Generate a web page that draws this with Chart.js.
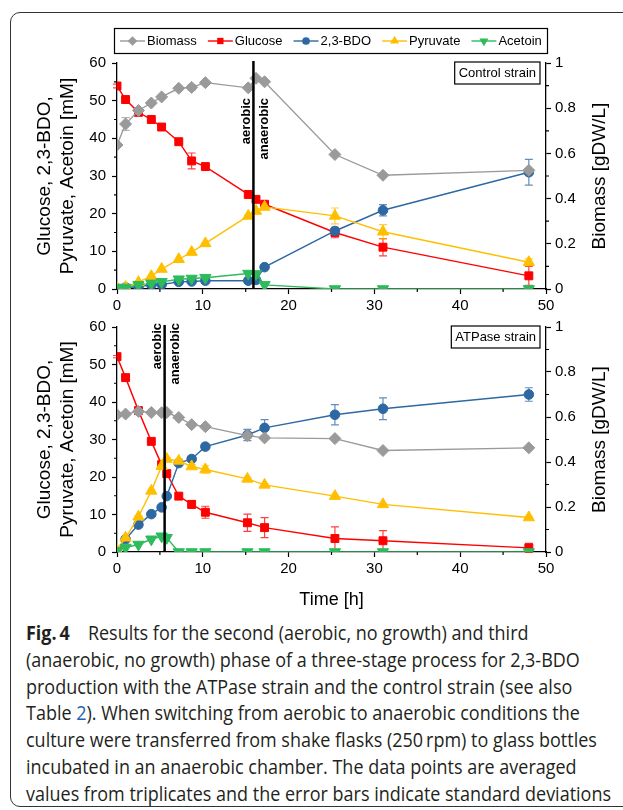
<!DOCTYPE html>
<html><head><meta charset="utf-8">
<script src="https://cdn.jsdelivr.net/npm/chart.js@4.4.1/dist/chart.umd.min.js"></script>
<style>
html,body{margin:0;padding:0;background:#fff;}
body{width:623px;height:810px;position:relative;overflow:hidden;font-family:"Liberation Sans",Arial,sans-serif;}
#frame{position:absolute;left:10px;top:12px;width:700px;height:795px;border:1px solid #333;border-radius:10px;box-sizing:border-box;}
#w1{position:absolute;left:0;top:0;width:623px;height:312px;}
#w2{position:absolute;left:0;top:312px;width:623px;height:298px;}
#caption{position:absolute;left:26px;top:620px;font-family:"Open Sans",sans-serif;font-size:20px;line-height:26.8px;color:#231f20;white-space:nowrap;}
#caption .ln{display:block;transform-origin:0 50%;width:max-content;}
#caption b{font-weight:700;}
#caption .lk{color:#1f63b0;}
</style></head><body>
<div id="frame"></div>
<div id="w1"><canvas id="c1" width="623" height="312"></canvas></div>
<div id="w2"><canvas id="c2" width="623" height="298"></canvas></div>
<div id="caption">
<span class="ln"><b>Fig.&#8201;4</b>&emsp;Results for the second (aerobic, no growth) and third</span>
<span class="ln">(anaerobic, no growth) phase of a three-stage process for 2,3-BDO</span>
<span class="ln">production with the ATPase strain and the control strain (see also</span>
<span class="ln">Table <span class="lk">2</span>). When switching from aerobic to anaerobic conditions the</span>
<span class="ln">culture were transferred from shake flasks (250&#8201;rpm) to glass bottles</span>
<span class="ln">incubated in an anaerobic chamber. The data points are averaged</span>
<span class="ln">values from triplicates and the error bars indicate standard deviations</span>
</div>
<script>
// ---------- DATA ----------
const seriesNames = ["Biomass", "Glucose", "2,3-BDO", "Pyruvate", "Acetoin"];
const xTicks = [0, 10, 20, 30, 40, 50];
const leftTicks = [0, 10, 20, 30, 40, 50, 60];
const rightTicks = [0, 0.2, 0.4, 0.6, 0.8, 1];

// Control strain (top)
const timeC     = [0, 1, 2.5, 4, 5.2, 7.2, 8.7, 10.3, 15.3, 16.2, 17.2, 25.4, 31, 48];
const biomassC  = [0.637, 0.73, 0.79, 0.823, 0.85, 0.888, 0.892, 0.913, 0.89, 0.932, 0.917, 0.595, 0.503, 0.525];
const glucoseC  = [53.9, 50.3, 46.9, 45.0, 43.0, 39.1, 34.0, 32.5, 25.1, 23.8, 22.5, 15.0, 11.1, 3.5];
const bdoC      = [0.2, 0.4, 0.6, 1.1, 1.2, 1.9, 2.0, 2.2, 2.2, 2.4, 5.8, 15.4, 20.9, 31.0];
const pyruvateC = [0.2, 0.5, 1.8, 3.4, 5.3, 7.9, 9.8, 12.1, 19.4, 20.7, 21.8, 19.4, 15.2, 7.1];
const acetoinC  = [0.3, 0.4, 1.1, 1.5, 1.9, 2.6, 2.8, 3.0, 4.1, 4.0, 1.1, 0, 0, 0];
const biomassErrC  = [0, 0.028, 0.01, 0, 0, 0.008, 0.012, 0.006, 0, 0, 0.006, 0.006, 0.005, 0.005];
const glucoseErrC  = [0.5, 0.3, 0.3, 0.3, 0.3, 0.5, 2.1, 0.4, 0.5, 0.4, 0.8, 1.4, 2.3, 2.5];
const bdoErrC      = [0, 0, 0, 0, 0, 0, 0, 0, 0.2, 0.2, 0.3, 0.8, 1.5, 3.4];
const pyruvateErrC = [0, 0, 0, 0, 0, 0, 0, 0, 0.3, 0.3, 0.8, 2.1, 1.9, 0.9];
const acetoinErrC  = [0, 0, 0, 0, 0, 0, 0, 0, 0, 0, 0, 0, 0, 0];
const switchC = 15.9;

// ATPase strain (bottom)
const timeA     = [0, 1, 2.5, 4, 5.2, 5.8, 7.2, 8.7, 10.3, 15.2, 17.2, 25.4, 31, 48];
const biomassA  = [0.61, 0.613, 0.625, 0.62, 0.619, 0.62, 0.598, 0.566, 0.557, 0.517, 0.507, 0.504, 0.451, 0.463];
const glucoseA  = [52.1, 46.5, 37.7, 29.5, 23.3, 20.9, 14.9, 12.7, 10.6, 7.8, 6.5, 3.6, 3.0, 1.1];
const bdoA      = [0.3, 3.4, 7.3, 10.1, 11.9, 14.9, 23.7, 24.8, 28.1, 31.2, 33.1, 36.6, 38.2, 42.0];
const pyruvateA = [0.5, 3.8, 9.4, 16.3, 22.9, 24.8, 24.3, 22.8, 22.0, 19.5, 17.9, 14.9, 12.7, 9.2];
const acetoinA  = [0.3, 1.2, 2.0, 3.4, 4.2, 3.8, 0, 0, 0, 0, 0, 0, 0, 0];
const biomassErrA  = [0, 0, 0, 0, 0, 0, 0, 0, 0, 0.012, 0, 0, 0, 0];
const glucoseErrA  = [0.3, 0.3, 0.3, 0.3, 0.6, 0.3, 0.5, 1.0, 1.6, 2.3, 2.65, 3.1, 2.7, 1.2];
const bdoErrA      = [0, 0, 0, 0.2, 0.3, 0.4, 0.3, 0.5, 0.6, 1.5, 2.2, 2.7, 2.9, 1.8];
const pyruvateErrA = [0, 0.2, 0.3, 0.3, 0.8, 0.3, 0.5, 0.5, 1.0, 0.4, 0.3, 0.3, 0.3, 0.3];
const acetoinErrA  = [0, 0, 0, 0, 0, 0, 0, 0, 0, 0, 0, 0, 0, 0];
const switchA = 5.55;

// ---------- STYLE ----------
const FONT = '"Liberation Sans", Arial, sans-serif';
const styles = [
  {color:'#9a9a9a', point:'rectRot', r:6, rot:0, axis:'y1', order:0},
  {color:'#ff0000', point:'rect', r:5.6, rot:0, axis:'y', order:4},
  {color:'#2e68a3', point:'circle', r:4.8, rot:0, axis:'y', order:3},
  {color:'#ffbf00', point:'triangle', r:6.5, rot:0, axis:'y', order:2},
  {color:'#2dbb5b', point:'triangle', r:6.5, rot:180, axis:'y', order:1}
];

function pts(t, v){ return t.map((x,i)=>({x:x, y:v[i]})); }

function buildDatasets(t, vals, errs){
  return vals.map((v,i)=>{
    const s = styles[i];
    return {
      label: seriesNames[i], data: pts(t, v), yAxisID: s.axis, order: s.order,
      borderColor: s.color, backgroundColor: s.color, borderWidth: 1.4,
      pointStyle: s.point, pointRadius: s.r, pointRotation: s.rot,
      pointBackgroundColor: s.color, pointBorderColor: s.color, pointBorderWidth: 1,
      tension: 0, errors: errs[i]
    };
  });
}

function drawMarker(ctx, style, x, y){
  ctx.save();
  ctx.fillStyle = style.color;
  ctx.beginPath();
  const r = style.r;
  if (style.point === 'rectRot'){ ctx.moveTo(x, y-r); ctx.lineTo(x+r, y); ctx.lineTo(x, y+r); ctx.lineTo(x-r, y); }
  else if (style.point === 'rect'){ const h = r*Math.SQRT1_2; ctx.rect(x-h, y-h, 2*h, 2*h); }
  else if (style.point === 'circle'){ ctx.arc(x, y, r, 0, Math.PI*2); }
  else { const d = style.rot ? -1 : 1; const h = r*Math.sqrt(3)/2;
    ctx.moveTo(x, y - d*r); ctx.lineTo(x + h, y + d*r/2); ctx.lineTo(x - h, y + d*r/2); }
  ctx.closePath(); ctx.fill(); ctx.restore();
}

function makePlugin(cfg){
  return {
    id: 'custom' + cfg.id,
    beforeDatasetsDraw(chart){
      const ctx = chart.ctx;
      chart.data.datasets.forEach((ds, i)=>{
        const meta = chart.getDatasetMeta(i);
        const sc = chart.scales[ds.yAxisID];
        ctx.save();
        ctx.strokeStyle = ds.borderColor; ctx.globalAlpha = 0.75; ctx.lineWidth = 1.2;
        ds.data.forEach((p, j)=>{
          const e = ds.errors[j]; if (!e) return;
          const x = meta.data[j].x;
          const y1 = sc.getPixelForValue(p.y + e), y2 = sc.getPixelForValue(p.y - e);
          ctx.beginPath();
          ctx.moveTo(x, y1); ctx.lineTo(x, y2);
          ctx.moveTo(x-4, y1); ctx.lineTo(x+4, y1);
          ctx.moveTo(x-4, y2); ctx.lineTo(x+4, y2);
          ctx.stroke();
        });
        ctx.restore();
      });
    },
    afterDraw(chart){
      const ctx = chart.ctx, a = chart.chartArea;
      const xs = chart.scales.x, ys = chart.scales.y, y1s = chart.scales.y1;
      ctx.save();
      ctx.strokeStyle = '#000'; ctx.lineWidth = 1.2;
      ctx.beginPath();
      for (let v = 5; v < 50; v += 10){ const px = xs.getPixelForValue(v); ctx.moveTo(px, a.bottom); ctx.lineTo(px, a.bottom + 3); }
      for (let v = 5; v < 60; v += 10){ const py = ys.getPixelForValue(v); ctx.moveTo(a.left - 3, py); ctx.lineTo(a.left, py); }
      for (let v = 0.1; v < 1; v += 0.2){ const py = y1s.getPixelForValue(v); ctx.moveTo(a.right, py); ctx.lineTo(a.right + 3, py); }
      ctx.stroke();
      // switch line
      const sx = xs.getPixelForValue(cfg.sw);
      ctx.lineWidth = 2.5;
      ctx.beginPath(); ctx.moveTo(sx, a.top - 2); ctx.lineTo(sx, a.bottom); ctx.stroke();
      ctx.fillStyle = '#000';
      ctx.font = 'bold 13px ' + FONT;
      ctx.textAlign = 'right'; ctx.textBaseline = 'middle';
      [['aerobic', -7], ['anaerobic', 11]].forEach(([t, dx])=>{
        ctx.save(); ctx.translate(sx + dx, cfg.labelTop); ctx.rotate(-Math.PI/2); ctx.fillText(t, 0, 0); ctx.restore();
      });
      // strain box
      ctx.font = '13px ' + FONT;
      const tw = ctx.measureText(cfg.strain).width;
      const bw = tw + 8, bh = 22, bx = a.right - 6 - bw, by = a.top - 1;
      ctx.fillStyle = '#fff'; ctx.fillRect(bx, by, bw, bh);
      ctx.lineWidth = 1.2; ctx.strokeRect(bx, by, bw, bh);
      ctx.fillStyle = '#000'; ctx.textAlign = 'center'; ctx.textBaseline = 'middle';
      ctx.fillText(cfg.strain, bx + bw/2, by + bh/2 + 0.5);
      // axis titles
      const cy = (a.top + a.bottom)/2;
      ctx.font = '19px ' + FONT;
      [['Glucose, 2,3-BDO,', 45], ['Pyruvate, Acetoin [mM]', 68], ['Biomass [gDW/L]', 600]].forEach(([t, x])=>{
        ctx.save(); ctx.translate(x, cy); ctx.rotate(-Math.PI/2); ctx.fillText(t, 0, 0); ctx.restore();
      });
      if (cfg.timeTitle){
        ctx.font = '18px ' + FONT;
        ctx.fillText('Time [h]', (a.left + a.right)/2, cfg.timeTitle);
      }
      if (cfg.legend){
        ctx.lineWidth = 1.2; ctx.strokeStyle = '#000';
        ctx.strokeRect(114.5, 28.5, 433, 25);
        ctx.font = '13px ' + FONT; ctx.textAlign = 'left'; ctx.textBaseline = 'middle';
        let x = 120; const ly = 41;
        seriesNames.forEach((n, i)=>{
          const s = styles[i];
          ctx.strokeStyle = s.color; ctx.lineWidth = 1.4;
          ctx.beginPath(); ctx.moveTo(x, ly); ctx.lineTo(x + 25, ly); ctx.stroke();
          drawMarker(ctx, {color:s.color, point:s.point, r:s.r*0.8, rot:s.rot}, x + 12.5, ly);
          ctx.fillStyle = '#000';
          ctx.fillText(n, x + 27, ly + 0.5);
          x = x + 27 + ctx.measureText(n).width + 11;
        });
      }
      ctx.restore();
    }
  };
}

function tickFont(){ return {family: FONT, size: 15}; }
function baseScales(xH){
  const grid = {display:true, drawOnChartArea:false, drawTicks:true, tickLength:5, tickColor:'#000', tickWidth:1.2};
  const border = {display:true, color:'#000', width:1.3};
  return {
    x: {type:'linear', position:'bottom', min:0, max:50,
        ticks:{stepSize:10, font:tickFont(), color:'#000', padding:3, maxRotation:0},
        grid:grid, border:border, afterFit(s){ s.height = xH; }},
    y: {type:'linear', position:'left', min:0, max:60,
        ticks:{stepSize:10, font:tickFont(), color:'#000', padding:6},
        grid:grid, border:border, afterFit(s){ s.width = 117; }},
    y1: {type:'linear', position:'right', min:0, max:1,
        ticks:{stepSize:0.2, font:tickFont(), color:'#000', padding:4, callback:(v)=>String(+(+v).toFixed(1))},
        grid:grid, border:border, afterFit(s){ s.width = 77; }}
  };
}

function makeChart(id, t, vals, errs, padTop, xH, cfg){
  return new Chart(document.getElementById(id), {
    type:'line',
    data:{datasets: buildDatasets(t, vals, errs)},
    options:{
      responsive:false, animation:false, devicePixelRatio:1,
      layout:{padding:{top:padTop, left:0, right:0, bottom:0}},
      plugins:{legend:{display:false}, tooltip:{enabled:false}},
      events:[],
      scales: baseScales(xH)
    },
    plugins:[makePlugin(cfg)]
  });
}

makeChart('c1', timeC, [biomassC, glucoseC, bdoC, pyruvateC, acetoinC],
  [biomassErrC, glucoseErrC, bdoErrC, pyruvateErrC, acetoinErrC], 63, 23,
  {id:1, sw:switchC, labelTop:98, strain:'Control strain', legend:true});
makeChart('c2', timeA, [biomassA, glucoseA, bdoA, pyruvateA, acetoinA],
  [biomassErrA, glucoseErrA, bdoErrA, pyruvateErrA, acetoinErrA], 14, 58,
  {id:2, sw:switchA, labelTop:11, strain:'ATPase strain', timeTitle:288});

// condense caption to match the reference width
(function(){
  const lines = document.querySelectorAll('#caption .ln');
  const last = lines[lines.length-1].getBoundingClientRect().width;
  const k = 585 / last;
  lines.forEach(l=>{ l.style.transform = 'scaleX(' + k + ')'; });
})();
</script>
</body></html>
